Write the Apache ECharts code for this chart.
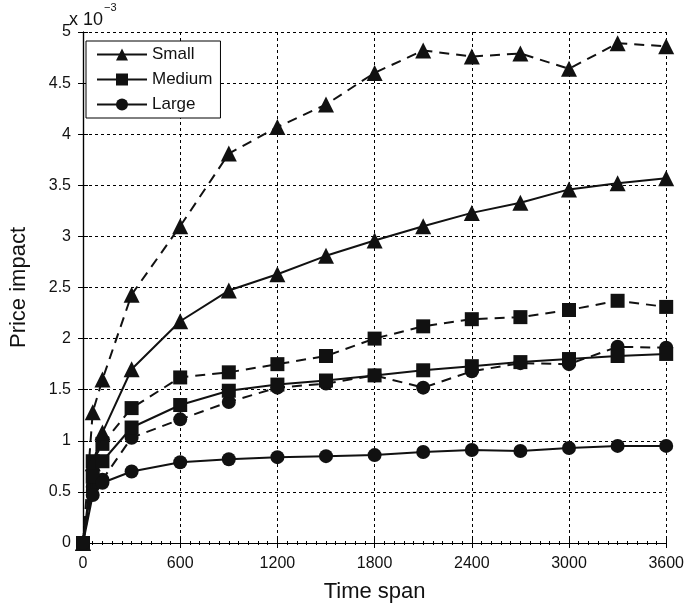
<!DOCTYPE html>
<html>
<head>
<meta charset="utf-8">
<script src="https://cdn.jsdelivr.net/npm/echarts@6/dist/echarts.min.js"></script>
<style>
html,body{margin:0;padding:0;background:#fff;}
#chart{width:687px;height:608px;}
</style>
</head>
<body>
<div id="chart"></div>
<script>
// Time span (seconds)
var timeSpan = [0, 60, 120, 300, 600, 900, 1200, 1500, 1800, 2100, 2400, 2700, 3000, 3300, 3600];
// Price impact values in units of 10^-3
var smallSolid  = [0, 0.78, 1.08, 1.70, 2.17, 2.47, 2.63, 2.81, 2.96, 3.10, 3.23, 3.33, 3.46, 3.52, 3.57];
var smallDashed = [0, 1.28, 1.60, 2.43, 3.10, 3.81, 4.07, 4.29, 4.60, 4.82, 4.76, 4.79, 4.64, 4.89, 4.86];
var mediumSolid  = [0, 0.65, 0.80, 1.13, 1.35, 1.49, 1.55, 1.59, 1.64, 1.69, 1.73, 1.77, 1.80, 1.83, 1.85];
var mediumDashed = [0, 0.80, 0.97, 1.32, 1.62, 1.67, 1.75, 1.83, 2.00, 2.12, 2.19, 2.21, 2.28, 2.37, 2.31];
var largeSolid  = [0, 0.47, 0.59, 0.70, 0.79, 0.82, 0.84, 0.85, 0.86, 0.89, 0.91, 0.90, 0.93, 0.95, 0.95];
var largeDashed = [0, 0.55, 0.62, 1.03, 1.21, 1.38, 1.52, 1.56, 1.64, 1.52, 1.68, 1.76, 1.75, 1.92, 1.91];
var legendNames = ['Small', 'Medium', 'Large'];
var xTickInterval = 600;
var yTickInterval = 0.5;

function pairs(vals) {
  return timeSpan.map(function (t, i) { return [t, vals[i]]; });
}
function mk(name, vals, symbol, size, dashed) {
  return {
    name: name,
    type: 'line',
    data: pairs(vals),
    symbol: symbol,
    symbolSize: size,
    showAllSymbol: true,
    animation: false,
    itemStyle: { color: '#111', borderWidth: 0 },
    lineStyle: { color: '#111', width: 2, type: dashed ? [10, 7] : 'solid' },
    z: dashed ? 2 : 3
  };
}

var chart = echarts.init(document.getElementById('chart'));
var fontFam = 'Liberation Sans, Arial, sans-serif';
var gridLine = { show: true, lineStyle: { color: '#000', width: 1, type: [3, 3] } };
chart.setOption({
  backgroundColor: '#fff',
  animation: false,
  grid: { left: 78, right: 19, top: 32, bottom: 58, show: false },
  legend: {
    data: legendNames,
    orient: 'vertical',
    left: 86,
    top: 41,
    itemWidth: 50,
    itemHeight: 15,
    itemGap: 8,
    padding: [5, 8, 5, 10],
    backgroundColor: '#fff',
    borderColor: '#000',
    borderWidth: 1,
    borderRadius: 0,
    textStyle: { fontFamily: fontFam, fontSize: 17, color: '#111' }
  },
  graphic: [{
    type: 'text',
    left: 69,
    top: 2,
    style: {
      text: '{a|x 10}{b|−3}',
      rich: {
        a: { fontFamily: fontFam, fontSize: 18, fill: '#111', padding: [9, 0, 0, 0] },
        b: { fontFamily: fontFam, fontSize: 11, fill: '#111', verticalAlign: 'top', padding: [0, 0, 10, 1] }
      }
    }
  }],
  xAxis: [{
    type: 'value',
    min: 0, max: 3600, interval: xTickInterval,
    name: 'Time span',
    nameLocation: 'middle',
    nameGap: 38,
    nameTextStyle: { fontFamily: fontFam, fontSize: 22, color: '#111' },
    axisLine: { show: true, lineStyle: { color: '#000', width: 1.2 } },
    axisTick: { show: true, inside: true, length: 5, lineStyle: { color: '#000' } },
    minorTick: { show: true, splitNumber: 10, length: 2, lineStyle: { color: '#000' } },
    axisLabel: { fontFamily: fontFam, fontSize: 16, color: '#111', margin: 13,
      formatter: function (v) { return String(v); } },
    splitLine: gridLine
  }, {
    type: 'value', position: 'top',
    min: 0, max: 3600, interval: xTickInterval,
    axisLine: { show: true, lineStyle: { color: '#000', width: 1.2 } },
    axisTick: { show: true, inside: true, length: 5, lineStyle: { color: '#000' } },
    minorTick: { show: true, splitNumber: 10, length: 2, lineStyle: { color: '#000' } },
    axisLabel: { show: false },
    splitLine: { show: false }
  }],
  yAxis: [{
    type: 'value',
    min: 0, max: 5, interval: yTickInterval,
    name: 'Price impact',
    nameLocation: 'middle',
    nameGap: 53,
    nameTextStyle: { fontFamily: fontFam, fontSize: 22, color: '#111' },
    axisLine: { show: true, lineStyle: { color: '#000', width: 1.2 } },
    axisTick: { show: true, inside: true, length: 5, lineStyle: { color: '#000' } },
    axisLabel: { fontFamily: fontFam, fontSize: 16, color: '#111', margin: 12 },
    splitLine: gridLine
  }, {
    type: 'value', position: 'right',
    min: 0, max: 5, interval: yTickInterval,
    axisLine: { show: true, lineStyle: { color: '#000', width: 1.2 } },
    axisTick: { show: true, inside: true, length: 5, lineStyle: { color: '#000' } },
    axisLabel: { show: false },
    splitLine: { show: false }
  }],
  series: [
    mk('Small', smallSolid, 'triangle', 16, false),
    mk('Medium', mediumSolid, 'rect', 14, false),
    mk('Large', largeSolid, 'circle', 14, false),
    mk('Small dashed', smallDashed, 'triangle', 16, true),
    mk('Medium dashed', mediumDashed, 'rect', 14, true),
    mk('Large dashed', largeDashed, 'circle', 14, true)
  ]
});
</script>
</body>
</html>
